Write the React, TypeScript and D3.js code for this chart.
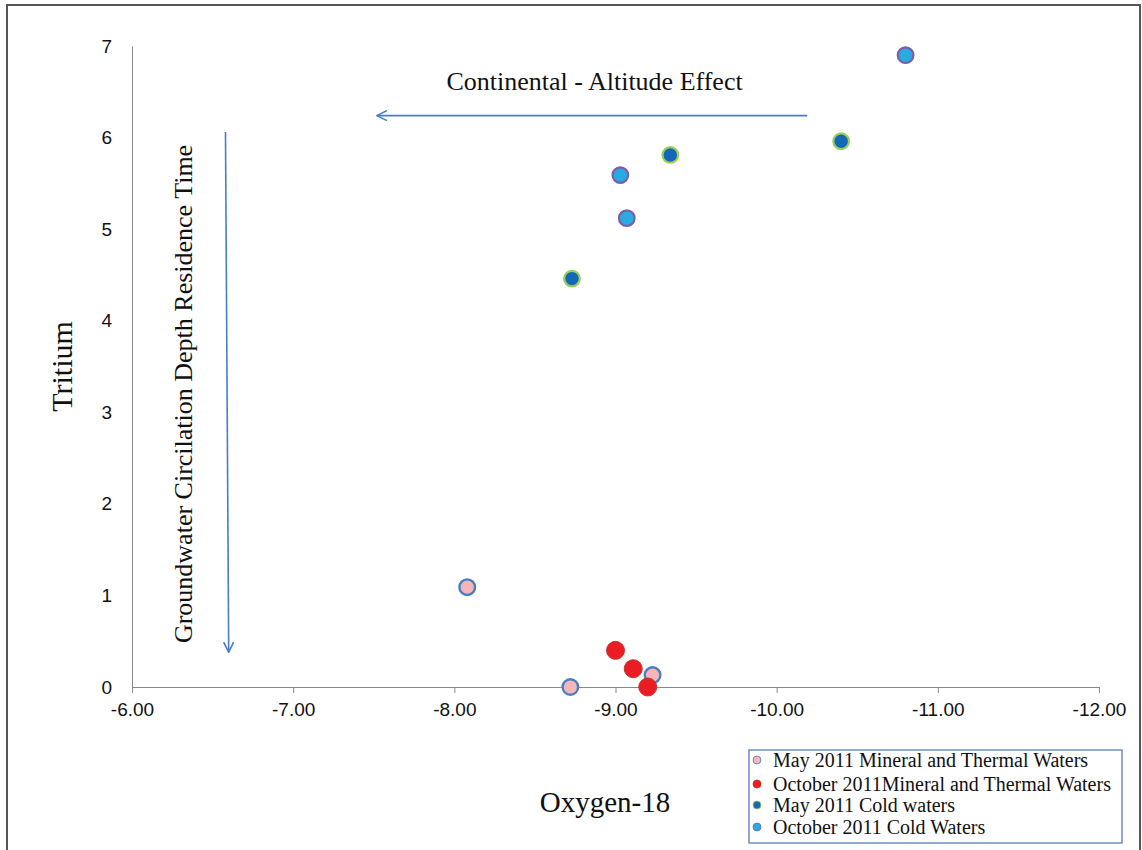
import React, { useEffect, useRef } from 'react';
import * as d3 from 'd3';

// [oxygen-18, tritium]
const mayMineral: [number, number][] = [[-8.72, 0], [-8.08, 1.09], [-9.23, 0.13]];
const octMineral: [number, number][] = [[-9.0, 0.4], [-9.11, 0.2], [-9.2, 0]];
const mayCold: [number, number][] = [[-8.73, 4.46], [-9.34, 5.81], [-10.4, 5.96]];
const octCold: [number, number][] = [[-10.8, 6.9], [-9.03, 5.59], [-9.07, 5.12]];

const xTicks = [-6, -7, -8, -9, -10, -11, -12];
const yTicks = [0, 1, 2, 3, 4, 5, 6, 7];

const seriesNames = [
  'May 2011 Mineral and Thermal Waters',
  'October 2011Mineral and Thermal Waters',
  'May 2011 Cold waters',
  'October 2011 Cold Waters',
];

interface Series {
  name: string;
  data: [number, number][];
  fill: string;
  stroke: string;
  r: number;
  sw: number;
}

const series: Series[] = [
  { name: seriesNames[0], data: mayMineral, fill: '#f4b6b8', stroke: '#4a7ec2', r: 7.8, sw: 2.4 },
  { name: seriesNames[1], data: octMineral, fill: '#ec1c24', stroke: '#c0392b', r: 9, sw: 1 },
  { name: seriesNames[2], data: mayCold, fill: '#1369b5', stroke: '#9acd5a', r: 7.8, sw: 2.2 },
  { name: seriesNames[3], data: octCold, fill: '#29abe2', stroke: '#7b5ea7', r: 7.8, sw: 2.2 },
];

const serif = '"Liberation Serif", "Times New Roman", serif';
const sans = '"Liberation Sans", Arial, sans-serif';

export default function App() {
  const svgRef = useRef<SVGSVGElement>(null);

  useEffect(() => {
    document.body.style.margin = '0';
    if (!svgRef.current) return;
    const svg = d3.select(svgRef.current);
    svg.selectAll('*').remove();

    const x = d3.scaleLinear().domain([-6, -12]).range([132, 1099]);
    const y = d3.scaleLinear().domain([0, 7]).range([687, 46]);

    // outer frame
    svg.append('rect')
      .attr('x', 7).attr('y', 5).attr('width', 1133).attr('height', 850)
      .attr('fill', 'white').attr('stroke', '#555').attr('stroke-width', 2);

    const defs = svg.append('defs');
    defs.append('marker')
      .attr('id', 'arrow')
      .attr('viewBox', '0 0 12 12')
      .attr('refX', 11).attr('refY', 6)
      .attr('markerWidth', 12).attr('markerHeight', 12)
      .attr('markerUnits', 'userSpaceOnUse')
      .attr('orient', 'auto')
      .append('path')
      .attr('d', 'M1,1 L11,6 L1,11')
      .attr('fill', 'none')
      .attr('stroke', '#4a7ec2')
      .attr('stroke-width', 1.6);

    // axes
    const xAxis = svg.append('g')
      .attr('transform', `translate(0,${y(0)})`)
      .call(d3.axisBottom(x).tickValues(xTicks).tickSize(6).tickSizeOuter(0));
    xAxis.select('.domain').attr('stroke', '#888');
    xAxis.selectAll('.tick line').attr('stroke', '#888');
    xAxis.selectAll('.tick text')
      .attr('font-family', sans).attr('font-size', 19).attr('fill', '#111').attr('dy', '1.05em')
      .text((d: any) => d3.format('.2f')(d).replace('−', '-'));

    const yAxis = svg.append('g')
      .attr('transform', `translate(${x(-6)},0)`)
      .call(d3.axisLeft(y).tickValues(yTicks).tickSize(0).tickSizeOuter(0).tickPadding(20).tickFormat(d3.format('d')));
    yAxis.select('.domain').attr('stroke', '#888');
    yAxis.selectAll('.tick text')
      .attr('font-family', sans).attr('font-size', 19).attr('fill', '#111');

    // annotations
    svg.append('line')
      .attr('x1', x(-10.19)).attr('y1', y(6.24))
      .attr('x2', x(-7.52)).attr('y2', y(6.24))
      .attr('stroke', '#4a7ec2').attr('stroke-width', 1.6)
      .attr('marker-end', 'url(#arrow)');
    svg.append('text')
      .attr('x', x(-8.87)).attr('y', 90)
      .attr('text-anchor', 'middle')
      .attr('font-family', serif).attr('font-size', 26).attr('fill', '#111')
      .text('Continental - Altitude Effect');

    svg.append('line')
      .attr('x1', x(-6.58)).attr('y1', y(6.06))
      .attr('x2', x(-6.6)).attr('y2', y(0.38))
      .attr('stroke', '#4a7ec2').attr('stroke-width', 1.6)
      .attr('marker-end', 'url(#arrow)');
    svg.append('text')
      .attr('transform', `translate(192,${y(3.2)}) rotate(-90)`)
      .attr('text-anchor', 'middle')
      .attr('font-family', serif).attr('font-size', 26).attr('fill', '#111')
      .text('Groundwater Circilation Depth Residence Time');

    // axis titles
    svg.append('text')
      .attr('transform', `translate(72,${y(3.5)}) rotate(-90)`)
      .attr('text-anchor', 'middle')
      .attr('font-family', serif).attr('font-size', 30).attr('fill', '#111')
      .text('Tritium');
    svg.append('text')
      .attr('x', 605).attr('y', 812)
      .attr('text-anchor', 'middle')
      .attr('font-family', serif).attr('font-size', 29).attr('fill', '#111')
      .text('Oxygen-18');

    // points
    series.forEach((s) => {
      svg.append('g')
        .selectAll('circle')
        .data(s.data)
        .join('circle')
        .attr('cx', (d) => x(d[0]))
        .attr('cy', (d) => y(d[1]))
        .attr('r', s.r)
        .attr('fill', s.fill)
        .attr('stroke', s.stroke)
        .attr('stroke-width', s.sw);
    });

    // legend
    const lg = svg.append('g').attr('transform', 'translate(749,750)');
    lg.append('rect')
      .attr('width', 373).attr('height', 93)
      .attr('fill', 'white').attr('stroke', '#6d8fc4').attr('stroke-width', 1.5);
    const rowY = [10, 34, 55, 77];
    series.forEach((s, i) => {
      lg.append('circle')
        .attr('cx', 8).attr('cy', rowY[i])
        .attr('r', 4)
        .attr('fill', s.fill)
        .attr('stroke', s.stroke)
        .attr('stroke-width', 0.8);
      lg.append('text')
        .attr('x', 24).attr('y', rowY[i])
        .attr('dy', '0.35em')
        .attr('font-family', serif).attr('font-size', 20).attr('fill', '#111')
        .text(s.name);
    });
  }, []);

  return <svg ref={svgRef} width={1142} height={850} style={{ display: 'block' }} />;
}
